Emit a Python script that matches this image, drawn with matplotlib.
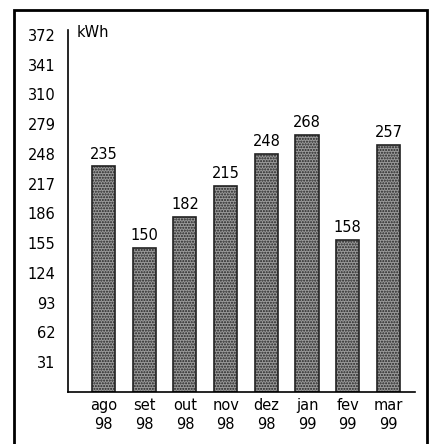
import matplotlib
matplotlib.use("Agg")
import matplotlib.pyplot as plt
from matplotlib.patches import Rectangle

months = ["ago", "set", "out", "nov", "dez", "jan", "fev", "mar"]
years = ["98", "98", "98", "98", "98", "99", "99", "99"]
consumo = [235, 150, 182, 215, 248, 268, 158, 257]
yticks = [31, 62, 93, 124, 155, 186, 217, 248, 279, 310, 341, 372]

plt.rcParams["font.family"] = ["DejaVu Sans"]
plt.rcParams["hatch.linewidth"] = 1.0

fig = plt.figure(figsize=(4.35, 4.44), dpi=100)
fig.patches.append(Rectangle((14 / 435, -0.05), (427 - 14) / 435, 1 - 10 / 444 + 0.05,
                             transform=fig.transFigure, fill=False,
                             edgecolor="black", linewidth=2))

ax = fig.add_axes([68 / 435, 1 - 392 / 444, (415 - 68) / 435, (392 - 30) / 444])
x = list(range(len(months)))
ax.bar(x, consumo, width=0.57, color="#9a9a9a", edgecolor="#222222",
       hatch="......", linewidth=1.2)

for xi, v in zip(x, consumo):
    ax.text(xi, v + 5, str(v), ha="center", va="bottom", fontsize=10.5)

ax.set_xlim(-0.87, 7.65)
ax.set_ylim(0, 377)
ax.set_yticks(yticks)
ax.set_yticklabels([str(t) for t in yticks], fontsize=10.5)
ax.set_xticks(x)
ax.set_xticklabels([m + "\n" + y for m, y in zip(months, years)], fontsize=10.5,
                   linespacing=1.35)
ax.tick_params(axis="y", length=0, pad=9)
ax.tick_params(axis="x", length=0, pad=4)
for s in ["top", "right"]:
    ax.spines[s].set_visible(False)
ax.spines["left"].set_linewidth(1.2)
ax.spines["bottom"].set_linewidth(1.2)
ax.text(9 / 347, 374, "kWh", transform=ax.get_yaxis_transform(), ha="left",
        va="center", fontsize=10.5)

fig.savefig("out.png", dpi=100)
